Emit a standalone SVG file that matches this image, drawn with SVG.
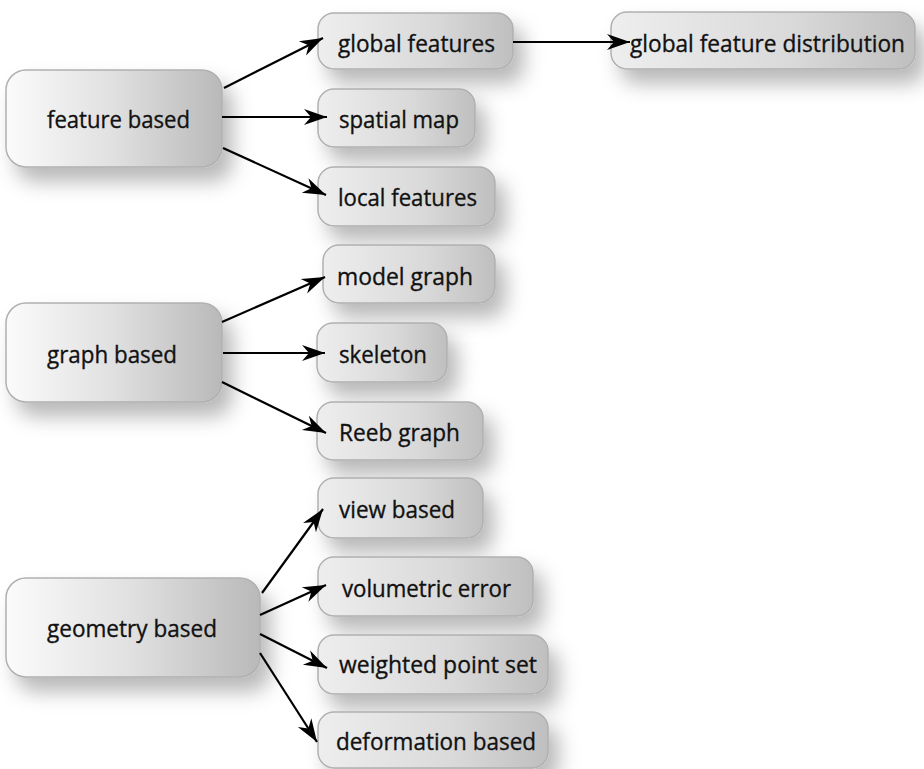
<svg xmlns="http://www.w3.org/2000/svg" width="924" height="769" viewBox="0 0 924 769">
<defs>
<linearGradient id="gp" x1="0" y1="0" x2="1" y2="0">
<stop offset="0" stop-color="#fbfbfb"/>
<stop offset="0.5" stop-color="#e0e0e0"/>
<stop offset="1" stop-color="#b9b9b9"/>
</linearGradient>
<linearGradient id="gc" x1="0" y1="0" x2="1" y2="0">
<stop offset="0" stop-color="#eeeeee"/>
<stop offset="0.6" stop-color="#d9d9d9"/>
<stop offset="1" stop-color="#bfbfbf"/>
</linearGradient>
<filter id="sh" x="-20%" y="-30%" width="150%" height="190%">
<feDropShadow dx="10" dy="14" stdDeviation="10" flood-color="#000" flood-opacity="0.28"/>
</filter>
<marker id="ah" markerUnits="userSpaceOnUse" markerWidth="26" markerHeight="18" refX="24" refY="9" orient="auto">
<path d="M24,9 L1,1 L8,9 L1,17 Z" fill="#000"/>
</marker>
</defs>
<style>
.p{fill:url(#gp);stroke:#b0b0b0;stroke-width:1.5;filter:url(#sh)}
.c{fill:url(#gc);stroke:#b0b0b0;stroke-width:1.5;filter:url(#sh)}
text{font-family:"Open Sans","Noto Sans","Liberation Sans",sans-serif;font-size:24px;fill:#111;stroke:#111;stroke-width:0.35}
.e{stroke:#000;stroke-width:2.2;fill:none;marker-end:url(#ah)}
</style>
<g id="n-feature">
<rect class="p" x="6" y="70" width="216" height="97" rx="20"/>
<text x="47" y="128" textLength="143" lengthAdjust="spacingAndGlyphs">feature based</text>
</g>
<g id="n-graph">
<rect class="p" x="6" y="303" width="216" height="99" rx="20"/>
<text x="47" y="363" textLength="130" lengthAdjust="spacingAndGlyphs">graph based</text>
</g>
<g id="n-geometry">
<rect class="p" x="6" y="578" width="254" height="99" rx="20"/>
<text x="47" y="637" textLength="170" lengthAdjust="spacingAndGlyphs">geometry based</text>
</g>
<g id="n-global">
<rect class="c" x="318" y="13" width="195" height="56" rx="16"/>
<text x="338" y="52" textLength="157" lengthAdjust="spacingAndGlyphs">global features</text>
</g>
<g id="n-spatial">
<rect class="c" x="318" y="89" width="157" height="58" rx="16"/>
<text x="339" y="128" textLength="120" lengthAdjust="spacingAndGlyphs">spatial map</text>
</g>
<g id="n-local">
<rect class="c" x="318" y="167" width="177" height="59" rx="16"/>
<text x="338" y="206" textLength="139" lengthAdjust="spacingAndGlyphs">local features</text>
</g>
<g id="n-gfd">
<rect class="c" x="611" y="12" width="304" height="57" rx="16"/>
<text x="630" y="52" textLength="275" lengthAdjust="spacingAndGlyphs">global feature distribution</text>
</g>
<g id="n-model">
<rect class="c" x="323" y="245" width="172" height="58" rx="16"/>
<text x="337" y="285" textLength="136" lengthAdjust="spacingAndGlyphs">model graph</text>
</g>
<g id="n-skeleton">
<rect class="c" x="317" y="323" width="130" height="59" rx="16"/>
<text x="339" y="363" textLength="88" lengthAdjust="spacingAndGlyphs">skeleton</text>
</g>
<g id="n-reeb">
<rect class="c" x="317" y="402" width="166" height="58" rx="16"/>
<text x="339" y="441" textLength="121" lengthAdjust="spacingAndGlyphs">Reeb graph</text>
</g>
<g id="n-view">
<rect class="c" x="318" y="478" width="165" height="60" rx="16"/>
<text x="339" y="518" textLength="116" lengthAdjust="spacingAndGlyphs">view based</text>
</g>
<g id="n-volumetric">
<rect class="c" x="318" y="557" width="215" height="59" rx="16"/>
<text x="342" y="597" textLength="169" lengthAdjust="spacingAndGlyphs">volumetric error</text>
</g>
<g id="n-weighted">
<rect class="c" x="318" y="635" width="230" height="59" rx="16"/>
<text x="339" y="673" textLength="198" lengthAdjust="spacingAndGlyphs">weighted point set</text>
</g>
<g id="n-deformation">
<rect class="c" x="318" y="712" width="230" height="56" rx="16"/>
<text x="336" y="750" textLength="200" lengthAdjust="spacingAndGlyphs">deformation based</text>
</g>
<g id="connectors">
<line class="e" x1="224" y1="88" x2="323" y2="38"/>
<line class="e" x1="222" y1="117" x2="327" y2="117"/>
<line class="e" x1="223" y1="148" x2="326" y2="195"/>
<line class="e" x1="513" y1="42" x2="630" y2="42"/>
<line class="e" x1="222" y1="322" x2="325" y2="277"/>
<line class="e" x1="223" y1="353" x2="325" y2="353"/>
<line class="e" x1="222" y1="382" x2="326" y2="433"/>
<line class="e" x1="262" y1="593" x2="323" y2="509"/>
<line class="e" x1="260" y1="615" x2="326" y2="585"/>
<line class="e" x1="260" y1="634" x2="327" y2="668"/>
<line class="e" x1="260" y1="653" x2="317" y2="742"/>
</g>
</svg>
